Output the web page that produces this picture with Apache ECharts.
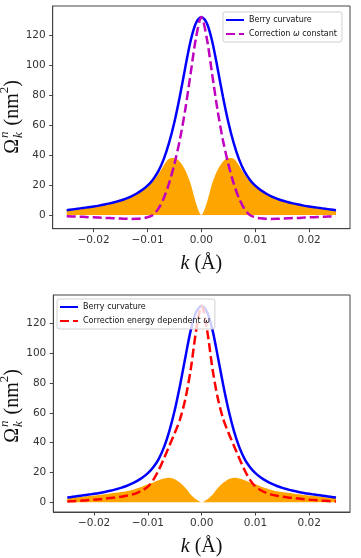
<!DOCTYPE html>
<html>
<head>
<meta charset="utf-8">
<script src="https://cdn.jsdelivr.net/npm/echarts@6/dist/echarts.min.js"></script>
<style>
    html,body{margin:0;padding:0;background:#fff;}
    #main{width:361px;height:558px;}
</style>
</head>
<body>
<div id="main"></div>
<script>
// k grid (1/Å) shared by every curve
var kVals = [-0.025,-0.024,-0.023,-0.022,-0.021,-0.020,-0.019,-0.018,-0.017,-0.016,-0.015,-0.014,-0.013,-0.012,-0.011,-0.010,
             -0.009,-0.008,-0.007,-0.006,-0.005,-0.004,-0.003,-0.002,-0.001,0,
             0.001,0.002,0.003,0.004,0.005,0.006,0.007,0.008,0.009,0.010,
             0.011,0.012,0.013,0.014,0.015,0.016,0.017,0.018,0.019,0.020,0.021,0.022,0.023,0.024,0.025];

// Berry curvature (both panels)
var berry = [3.1,3.6,4.1,4.6,5.1,5.6,6.2,6.9,7.7,8.6,9.6,10.9,12.4,14.3,16.6,19.5,23.5,29,37,48,62,79,98,116,128,
             132,
             128,116,98,79,62,48,37,29,23.5,19.5,16.6,14.3,12.4,10.9,9.6,8.6,7.7,6.9,6.2,5.6,5.1,4.6,4.1,3.6,3.1];
// top panel: correction, omega constant
var corrConst = [-0.9,-1.0,-1.2,-1.3,-1.5,-1.6,-1.8,-2.0,-2.1,-2.3,-2.4,-2.6,-2.7,-2.6,-2.3,-1.6,0,4,11,21,34,50,70,94,118,
                 132,
                 118,94,70,50,34,21,11,4,0,-1.6,-2.3,-2.6,-2.7,-2.6,-2.4,-2.3,-2.1,-2.0,-1.8,-1.6,-1.5,-1.3,-1.2,-1.0,-0.9];
var fillTop = [3.6,4.0,4.5,5.0,5.5,6.0,6.6,7.3,8.1,9.0,10.0,11.3,12.8,14.7,17.0,19.7,22.5,27,33,37.5,38,35.5,30,21,8,
               0,
               8,21,30,35.5,38,37.5,33,27,22.5,19.7,17.0,14.7,12.8,11.3,10.0,9.0,8.1,7.3,6.6,6.0,5.5,5.0,4.5,4.0,3.6];
// bottom panel: correction, energy dependent omega
var corrEnergy = [0.5,0.7,0.9,1.1,1.4,1.7,2.0,2.4,2.8,3.2,3.7,4.3,5.1,6.3,8.0,10.5,15,21.5,29.5,38,46.5,56,70,90,116,
                  132,
                  116,90,70,56,46.5,38,29.5,21.5,15,10.5,8.0,6.3,5.1,4.3,3.7,3.2,2.8,2.4,2.0,1.7,1.4,1.1,0.9,0.7,0.5];
var fillBottom = [2.5,2.9,3.3,3.7,4.1,4.5,4.9,5.3,5.8,6.3,6.8,7.4,8.2,9.4,10.6,12,13.3,14.8,16,16.5,15.5,13,9.5,5,1.8,
                  0,
                  1.8,5,9.5,13,15.5,16.5,16,14.8,13.3,12,10.6,9.4,8.2,7.4,6.8,6.3,5.8,5.3,4.9,4.5,4.1,3.7,3.3,2.9,2.5];

var xTicks = [-0.02,-0.01,0,0.01,0.02];
var yTicks = [0,20,40,60,80,100,120];

function pairs(ys){
    var out = [];
    for(var i=0;i<kVals.length;i++){ out.push([kVals[i], ys[i]]); }
    return out;
}

var frame = '#444';
var tickFont = {fontFamily:'DejaVu Sans', fontSize:10.5, color:'#333'};

function xAxisCfg(idx){
    return {
        type:'value', gridIndex:idx, min:-0.0276, max:0.0276,
        name:'{i|k} (Å)', nameLocation:'middle', nameGap:25,
        nameTextStyle:{fontFamily:'Liberation Serif', fontSize:20, color:'#111',
            rich:{i:{fontFamily:'Liberation Serif', fontStyle:'italic', fontSize:20, color:'#111'}}},
        axisLine:{show:true, onZero:false, lineStyle:{color:frame, width:1}},
        axisTick:{show:true, length:3.5, customValues:xTicks, lineStyle:{color:frame}},
        axisLabel:{show:true, margin:6, customValues:xTicks, ...tickFont,
            formatter:function(v){ return v.toFixed(2).replace('-', '\u2212'); }},
        splitLine:{show:false}
    };
}
function yAxisCfg(idx, min){
    return {
        type:'value', gridIndex:idx, min:min, max:139.3,
        axisLine:{show:true, onZero:false, lineStyle:{color:frame, width:1}},
        axisTick:{show:true, length:3.5, customValues:yTicks, lineStyle:{color:frame}},
        axisLabel:{show:true, margin:7, customValues:yTicks, ...tickFont},
        splitLine:{show:false}
    };
}

function fillSeries(idx, ys){
    return {type:'line', xAxisIndex:idx, yAxisIndex:idx, data:pairs(ys), symbol:'none', smooth:0.3,
        lineStyle:{width:0}, areaStyle:{color:'#ffa500', opacity:1}, silent:true, z:1};
}
function lineSeries(idx, name, ys, color, dashed){
    return {type:'line', name:name, xAxisIndex:idx, yAxisIndex:idx, data:pairs(ys), symbol:'none', smooth:0.3,
        lineStyle:{color:color, width:2.5, type: dashed ? [9,4] : 'solid'},
        itemStyle:{color:color}, z: dashed ? 3 : 2};
}

function legendCfg(left, top, names){
    return {
        left:left, top:top, orient:'vertical', data:names,
        itemWidth:18, itemHeight:8, itemGap:4, itemTextGap:7,
        padding:[3,5,3,2],
        itemStyle:{opacity:0},
        backgroundColor:'rgba(255,255,255,0.8)', borderColor:'#d0d0d0', borderWidth:1, borderRadius:2,
        textStyle:{fontFamily:'DejaVu Sans', fontSize:8, color:'#111', lineHeight:10,
            rich:{i:{fontFamily:'DejaVu Sans', fontStyle:'italic', fontSize:8, color:'#111'}}},
        formatter:function(n){ return n.replace('ω', '{i|ω}'); },
        selectedMode:false
    };
}

// rotated y-axis title: Ω with stacked n/k, then (nm²)
var measureCtx = document.createElement('canvas').getContext('2d');
function tw(txt, size, italic){
    measureCtx.font = (italic ? 'italic ' : '') + size + 'px "Liberation Serif"';
    return measureCtx.measureText(txt).width;
}
function yTitle(cx, cy){
    var big = 20, small = 13;
    var parts = [];
    var x = 0;
    parts.push({t:'Ω', x:x, y:0, s:big}); x += tw('Ω', big) + 1;
    parts.push({t:'n', x:x, y:-8, s:small, it:true});
    parts.push({t:'k', x:x, y:6, s:small, it:true}); x += tw('n', small, true) + 6;
    parts.push({t:'(nm', x:x, y:0, s:big}); x += tw('(nm', big);
    parts.push({t:'2', x:x, y:-8, s:small}); x += tw('2', small);
    parts.push({t:')', x:x, y:0, s:big}); x += tw(')', big);
    var w = x;
    return {
        type:'group', x:cx, y:cy, rotation:Math.PI/2,
        children: parts.map(function(p){
            return {type:'text', x:p.x - w/2, y:p.y,
                style:{text:p.t, fontFamily:'Liberation Serif', fontSize:p.s, fontStyle:p.it ? 'italic' : 'normal',
                    fill:'#111', align:'left', verticalAlign:'middle'}};
        })
    };
}

var chart = echarts.init(document.getElementById('main'), null, {renderer:'canvas'});
chart.setOption({
    animation:false,
    backgroundColor:'#fff',
    grid:[
        {left:52.7, top:6, width:297.3, height:222.7, show:true, borderColor:frame, borderWidth:1, backgroundColor:'transparent'},
        {left:53.3, top:295, width:296.7, height:221.7, show:true, borderColor:frame, borderWidth:1, backgroundColor:'transparent'}
    ],
    xAxis:[xAxisCfg(0), xAxisCfg(1)],
    yAxis:[yAxisCfg(0, -9.2), yAxisCfg(1, -6.6)],
    legend:[
        legendCfg(223, 12, ['Berry curvature', 'Correction ω constant']),
        legendCfg(57, 299, ['Berry curvature ', 'Correction energy dependent ω'])
    ],
    graphic:[yTitle(13, 117), yTitle(13, 406)],
    series:[
        fillSeries(0, fillTop),
        lineSeries(0, 'Berry curvature', berry, '#0000ff', false),
        lineSeries(0, 'Correction ω constant', corrConst, '#bf00bf', true),
        fillSeries(1, fillBottom),
        lineSeries(1, 'Berry curvature ', berry, '#0000ff', false),
        lineSeries(1, 'Correction energy dependent ω', corrEnergy, '#ff0000', true)
    ]
});
</script>
</body>
</html>
